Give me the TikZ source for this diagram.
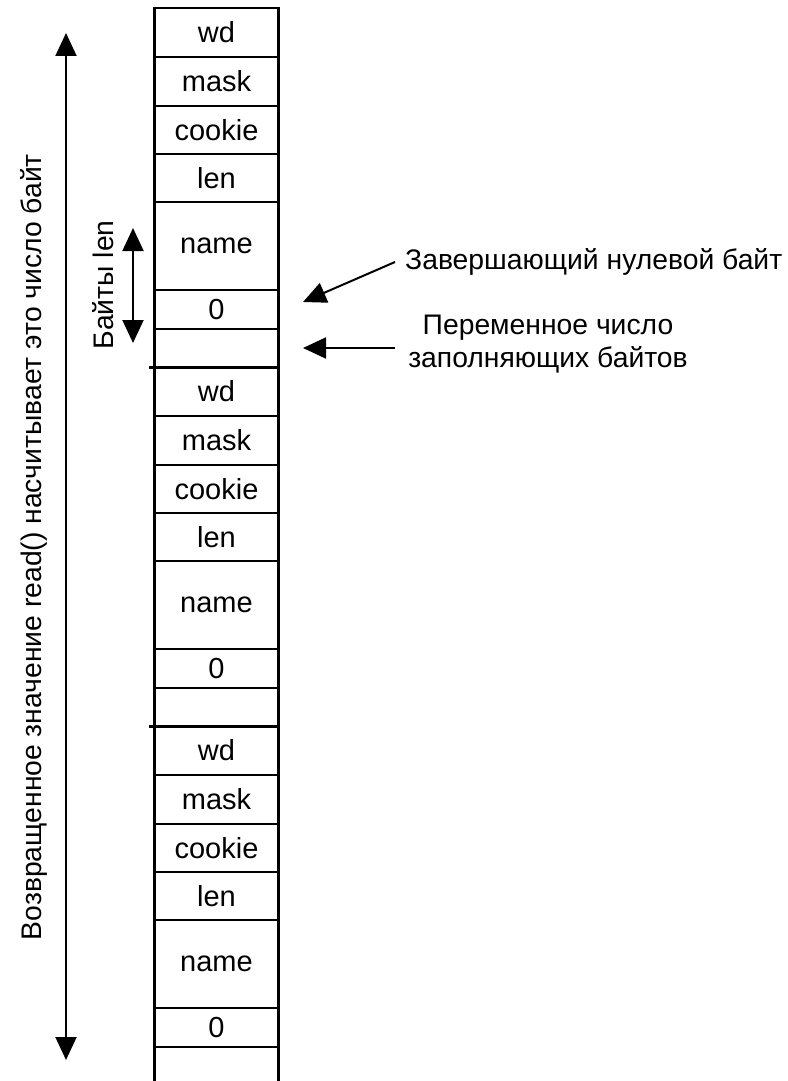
\documentclass[tikz,border=0pt]{standalone}
\usepackage{fontspec}
\setmainfont{Liberation Sans}
\usetikzlibrary{arrows.meta}
\begin{document}
\begin{tikzpicture}[x=1pt,y=-1pt,
  cell/.style={draw, line width=1.4pt, minimum width=123pt, inner sep=0pt, font=\fontsize{29}{32}\selectfont, anchor=center},
  lbl/.style={font=\fontsize{28.3}{33}\selectfont, inner sep=0pt},
  arr/.style={line width=2pt, -{Triangle[width=21pt,length=23pt]}},
  darr/.style={line width=2pt, {Triangle[width=21pt,length=23pt]}-{Triangle[width=21pt,length=23pt]}},
  thickline/.style={line width=3pt}]
\useasboundingbox (0,0) rectangle (787,1081);
\foreach \b/\s in {1/8,2/367,3/726}{
  \foreach \n/\t/\o/\h in {wd/wd/0/49, mask/mask/49/49, cookie/cookie/98/48, len/len/146/48, name/name/194/88, zero/0/282/39}{
    \node[cell, minimum height=\h*1pt] (c\b-\n) at (216.5, {\s+\o+\h/2}) {\t};
  }
}
\node[cell, minimum height=38pt] (c1-pad) at (216.5, 348) {};
\node[cell, minimum height=38pt] (c2-pad) at (216.5, 707) {};
\node[cell, draw=none, minimum height=34pt] (c3-pad) at (216.5, 1064) {};
% outer vertical edges
\draw[thickline] (c1-wd.north west) -- (c3-pad.south west);
\draw[thickline] (c1-wd.north east) -- (c3-pad.south east);
% block separators
\draw[thickline] ([xshift=-5pt]c1-pad.south west) -- (c1-pad.south east);
\draw[thickline] ([xshift=-5pt]c2-pad.south west) -- (c2-pad.south east);
% big arrow
\coordinate (bt) at (66,33);
\coordinate (bb) at (66,1060);
\draw[darr] (bb) -- (bt);
\node[lbl, rotate=90] (big) at (34,547) {Возвращенное значение read() насчитывает это число байт};
% small arrow
\coordinate (st) at (133,228);
\coordinate (sb) at (133,343);
\draw[darr] (sb) -- (st);
\node[lbl, rotate=90] (blen) at (103,285) {Байты len};
% right labels
\node[lbl, anchor=west] (zb) at (405,262) {Завершающий нулевой байт};
\coordinate (z1) at (395,262);
\coordinate (z2) at (303,302);
\draw[arr] (z1) -- (z2);
\node[lbl, align=center] (pv) at (548,344) {Переменное число\\заполняющих байтов};
\coordinate (p1) at (395,348);
\coordinate (p2) at (303,348);
\draw[arr] (p1) -- (p2);
\end{tikzpicture}
\end{document}
